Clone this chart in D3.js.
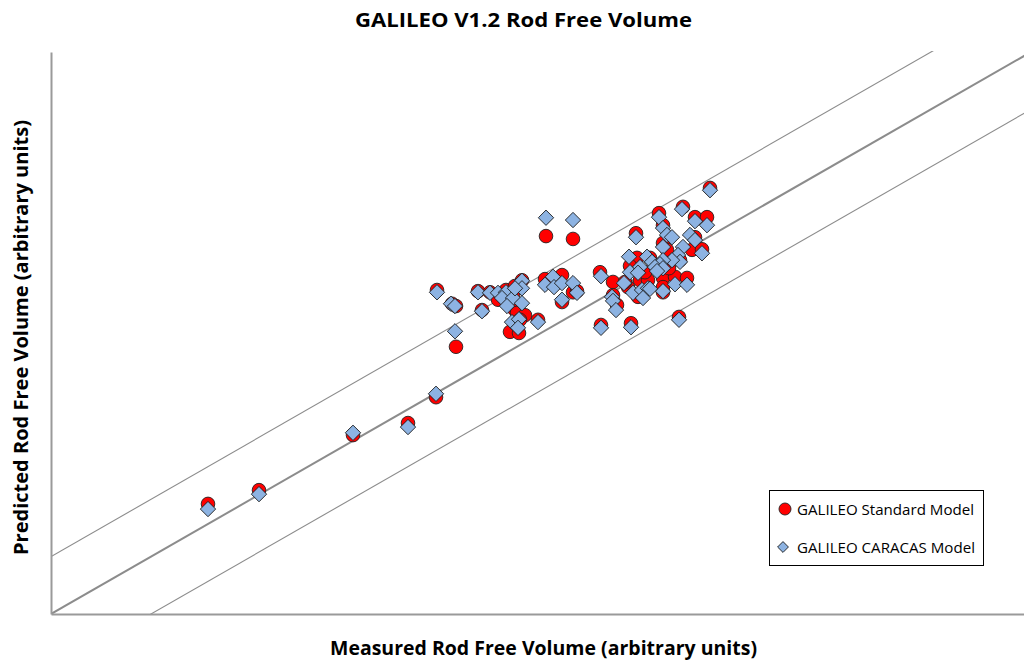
<!DOCTYPE html>
<html><head><meta charset="utf-8">
<script src="https://cdn.jsdelivr.net/npm/d3@7"></script>
<style>body{margin:0;background:#fff;} svg{display:block;}</style>
</head><body>
<svg id="chart" width="1024" height="662"></svg>
<script>
// Measured vs predicted rod free volume (arbitrary units)
const standardMeasured = [15.7,20.8,30.2,35.7,38.5,40.5,38.6,40.1,40.5,42.7,43.1,43.9,44.7,45.5,46.3,45.9,46.8,46.6,47.4,47.1,46.4,46.2,48.7,49.5,52.2,49.4,51.1,50.2,52.2,51.1,52.6,54.9,55.0,56.2,56.2,56.6,57.7,58.6,57.9,58.9,59.7,58.7,58.0,58.5,60.8,61.2,61.2,61.6,61.2,61.2,62.4,63.6,63.2,64.4,65.6,64.1,65.1,64.4,62.8,65.9,59.9,60.4,59.4,62.9,61.8,61.2,57.4,46.9,44.7];
const standardPredicted = [19.2,21.6,31.2,33.3,37.8,46.6,56.5,54.1,53.7,56.3,53.0,56.1,55.6,56.5,53.2,49.2,49.0,52.5,52.1,58.2,57.2,55.5,51.3,65.9,65.4,58.4,59.1,57.7,56.1,54.4,56.3,59.6,50.4,57.9,55.6,53.9,57.0,62.1,60.7,58.2,58.2,55.3,50.7,66.4,69.9,67.8,64.7,63.5,58.6,56.1,58.8,58.6,71.0,69.2,69.2,63.5,63.6,65.7,51.8,74.3,62.1,60.9,59.6,61.7,60.3,57.0,57.9,51.3,54.8];
const caracasMeasured = [15.7,20.8,30.2,35.7,38.5,40.4,38.6,40.0,40.4,42.7,43.1,43.9,44.7,45.5,45.1,46.2,47.1,47.1,46.4,45.6,47.1,46.1,46.8,46.7,48.7,49.5,52.2,50.2,49.4,50.3,51.1,52.2,52.6,51.1,55.0,55.0,56.1,56.2,56.5,57.8,58.9,59.6,60.1,57.9,58.7,58.2,59.1,59.7,59.2,58.0,58.5,60.8,61.2,61.6,62.1,61.2,63.9,64.4,63.2,62.7,65.1,62.9,62.1,61.2,60.9,60.4,61.2,60.6,62.4,63.6,61.2,59.9,62.8,65.9,63.1,64.4,65.6,57.3];
const caracasPredicted = [18.3,20.9,31.6,32.6,38.4,49.3,56.1,54.1,53.7,56.1,52.8,56.0,56.0,56.1,55.1,55.1,58.1,56.8,56.8,53.7,54.2,50.9,51.4,49.9,50.9,69.1,68.7,58.8,57.4,57.0,57.7,57.7,56.0,54.8,58.9,49.9,55.3,54.6,53.0,62.3,60.5,62.3,61.4,59.6,59.5,56.0,56.5,56.8,55.1,50.0,65.7,69.2,67.3,66.1,65.7,64.0,66.1,65.2,64.0,62.6,62.9,61.4,61.7,61.7,61.0,60.5,60.3,59.8,57.5,57.4,56.3,56.7,51.3,73.9,70.6,68.5,67.8,57.7];
const bandOffsets = [-10, 0, 10];
const seriesNames = ["GALILEO Standard Model", "GALILEO CARACAS Model"];
const titleText = "GALILEO V1.2 Rod Free Volume";
const xTitle = "Measured Rod Free Volume (arbitrary units)";
const yTitle = "Predicted Rod Free Volume (arbitrary units)";

const svg = d3.select("#chart");
const pL = 51, pR = 1024, pT = 52, pB = 614;
const xMax = 97.3, yMax = 98.0;
const x = d3.scaleLinear().domain([0, xMax]).range([pL, pR]);
const y = d3.scaleLinear().domain([0, yMax]).range([pB, pT]);

const defs = svg.append("defs");
defs.append("clipPath").attr("id","plotclip").append("rect")
  .attr("x", pL).attr("y", pT - 1).attr("width", pR - pL).attr("height", pB - pT + 1);

// reference lines y = x + offset
const lineGen = d3.line().x(d => x(d[0])).y(d => y(d[1]));
const g = svg.append("g").attr("clip-path","url(#plotclip)");
bandOffsets.forEach(off => {
  const pts = [[-20, -20 + off], [120, 120 + off]];
  g.append("path").attr("d", lineGen(pts)).attr("fill","none")
    .attr("stroke", "#8c8c8c").attr("stroke-width", off === 0 ? 2 : 1.1);
});

// axes
const xAxis = d3.axisBottom(x).tickValues([]).tickSizeOuter(0);
const yAxis = d3.axisLeft(y).tickValues([]).tickSizeOuter(0);
svg.append("g").attr("transform", `translate(0,${pB})`).call(xAxis)
  .select(".domain").attr("stroke","#9a9a9a").attr("stroke-width",2);
svg.append("g").attr("transform", `translate(${pL},0)`).call(yAxis)
  .select(".domain").attr("stroke","#9a9a9a").attr("stroke-width",2);

// standard model: red circles
const std = standardMeasured.map((v,i) => [v, standardPredicted[i]]);
svg.append("g").selectAll("circle").data(std).join("circle")
  .attr("cx", d => x(d[0])).attr("cy", d => y(d[1])).attr("r", 6.8)
  .attr("fill", "#ff0000").attr("stroke", "#222").attr("stroke-width", 0.9);

// caracas model: blue diamonds
const car = caracasMeasured.map((v,i) => [v, caracasPredicted[i]]);
const diamond = d3.symbol().type(d3.symbolDiamond2).size(150);
svg.append("g").selectAll("path").data(car).join("path")
  .attr("d", diamond)
  .attr("transform", d => `translate(${x(d[0])},${y(d[1])})`)
  .attr("fill", "#8db3e2").attr("stroke", "#1a1a1a").attr("stroke-width", 0.9);

// titles
const font = "Open Sans, Liberation Sans, sans-serif";
svg.append("text").attr("x", 523.5).attr("y", 27).attr("text-anchor","middle")
  .attr("font-family", font).attr("font-weight","bold").attr("font-size", 20).attr("fill","#000")
  .attr("textLength", 337).attr("lengthAdjust","spacingAndGlyphs")
  .text(titleText);
svg.append("text").attr("x", 543.5).attr("y", 655).attr("text-anchor","middle")
  .attr("font-family", font).attr("font-weight","bold").attr("font-size", 19).attr("fill","#000")
  .attr("textLength", 427).attr("lengthAdjust","spacingAndGlyphs")
  .text(xTitle);
svg.append("text").attr("transform","translate(28,337.5) rotate(-90)").attr("text-anchor","middle")
  .attr("font-family", font).attr("font-weight","bold").attr("font-size", 19).attr("fill","#000")
  .attr("textLength", 435).attr("lengthAdjust","spacingAndGlyphs")
  .text(yTitle);

// legend
const lg = svg.append("g");
lg.append("rect").attr("x", 769.5).attr("y", 490.5).attr("width", 214).attr("height", 75)
  .attr("fill","#fff").attr("stroke","#000").attr("stroke-width",1);
lg.append("circle").attr("cx", 785).attr("cy", 509).attr("r", 6)
  .attr("fill","#ff0000").attr("stroke","#222").attr("stroke-width",0.9);
lg.append("path").attr("d", d3.symbol().type(d3.symbolDiamond2).size(75))
  .attr("transform","translate(783,547)")
  .attr("fill","#8db3e2").attr("stroke","#1a1a1a").attr("stroke-width",0.9);
const legendWidths = [177, 178];
seriesNames.forEach((n,i) => {
  lg.append("text").attr("x", 797).attr("y", 514.5 + i*38)
    .attr("font-family", font).attr("font-size", 15).attr("fill","#000")
    .attr("textLength", legendWidths[i]).attr("lengthAdjust","spacingAndGlyphs").text(n);
});
</script>
</body></html>
